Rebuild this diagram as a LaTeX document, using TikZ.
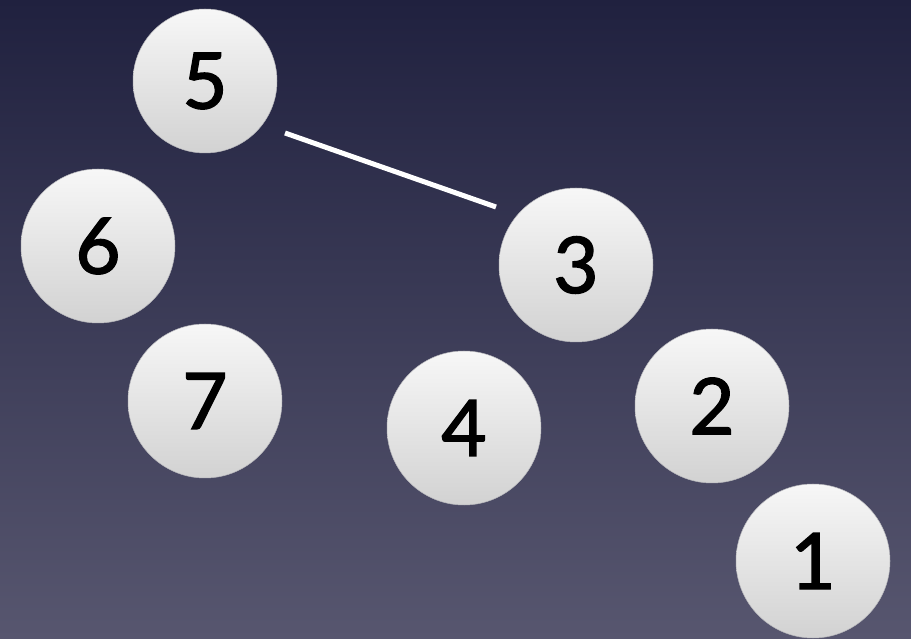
\documentclass[tikz,border=0pt]{standalone}
\usepackage{fontspec}
\setmainfont{Lato}
\newfontfamily\ballfont[FakeBold=1.8]{Lato}
\definecolor{bgtop}{HTML}{20213F}
\definecolor{bgbot}{HTML}{57566F}
\definecolor{balltop}{HTML}{F7F7F7}
\definecolor{ballbot}{HTML}{D2D2D2}
\definecolor{ballrim}{HTML}{B8B8BC}
\tikzset{
  ball/.style={circle, minimum size=154pt, inner sep=0pt, top color=balltop, bottom color=ballbot,
    draw=ballrim, line width=0.5pt, font=\ballfont\fontsize{78}{78}\selectfont, text=black},
  link/.style={draw=white, line width=5pt}
}
\begin{document}
\begin{tikzpicture}[x=1pt,y=1pt]
\shade[top color=bgtop, bottom color=bgbot] (0,0) rectangle (911,638);
\useasboundingbox (0,0) rectangle (911,638);
\node[ball, minimum size=144pt] (n5) at (205,557) {5};
\node[ball] (n6) at (98,392) {6};
\node[ball] (n7) at (205,237) {7};
\node[ball] (n3) at (576,373) {3};
\node[ball] (n4) at (464,210) {4};
\node[ball] (n2) at (712,232) {2};
\node[ball] (n1) at (813,77) {1};
\coordinate (ls) at (285,505);
\coordinate (le) at (496,431);
\draw[link] (ls) -- (le);
\end{tikzpicture}
\end{document}
